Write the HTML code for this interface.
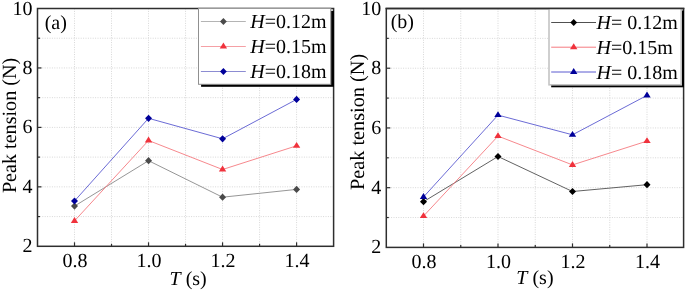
<!DOCTYPE html>
<html><head><meta charset="utf-8"><style>
html,body{margin:0;padding:0;background:#fff;}
body{width:685px;height:290px;overflow:hidden;}
svg{display:block;will-change:transform;}
text{font-family:"Liberation Serif", serif;font-size:20px;fill:#000;text-rendering:geometricPrecision;}
</style></head><body>
<svg width="685" height="290" viewBox="0 0 685 290">
<rect width="685" height="290" fill="#fff"/>
<line x1="74.51" y1="8.50" x2="74.51" y2="246.30" stroke="#d7d7d7" stroke-width="1" stroke-dasharray="1 1.4"/>
<line x1="111.53" y1="8.50" x2="111.53" y2="246.30" stroke="#d7d7d7" stroke-width="1" stroke-dasharray="1 1.4"/>
<line x1="148.54" y1="8.50" x2="148.54" y2="246.30" stroke="#d7d7d7" stroke-width="1" stroke-dasharray="1 1.4"/>
<line x1="185.55" y1="8.50" x2="185.55" y2="246.30" stroke="#d7d7d7" stroke-width="1" stroke-dasharray="1 1.4"/>
<line x1="222.56" y1="8.50" x2="222.56" y2="246.30" stroke="#d7d7d7" stroke-width="1" stroke-dasharray="1 1.4"/>
<line x1="259.58" y1="8.50" x2="259.58" y2="246.30" stroke="#d7d7d7" stroke-width="1" stroke-dasharray="1 1.4"/>
<line x1="296.59" y1="8.50" x2="296.59" y2="246.30" stroke="#d7d7d7" stroke-width="1" stroke-dasharray="1 1.4"/>
<line x1="37.50" y1="216.58" x2="333.60" y2="216.58" stroke="#d7d7d7" stroke-width="1" stroke-dasharray="1 1.4"/>
<line x1="37.50" y1="186.85" x2="333.60" y2="186.85" stroke="#d7d7d7" stroke-width="1" stroke-dasharray="1 1.4"/>
<line x1="37.50" y1="157.12" x2="333.60" y2="157.12" stroke="#d7d7d7" stroke-width="1" stroke-dasharray="1 1.4"/>
<line x1="37.50" y1="127.40" x2="333.60" y2="127.40" stroke="#d7d7d7" stroke-width="1" stroke-dasharray="1 1.4"/>
<line x1="37.50" y1="97.68" x2="333.60" y2="97.68" stroke="#d7d7d7" stroke-width="1" stroke-dasharray="1 1.4"/>
<line x1="37.50" y1="67.95" x2="333.60" y2="67.95" stroke="#d7d7d7" stroke-width="1" stroke-dasharray="1 1.4"/>
<line x1="37.50" y1="38.22" x2="333.60" y2="38.22" stroke="#d7d7d7" stroke-width="1" stroke-dasharray="1 1.4"/>
<path d="M74.51 206.10L148.54 160.70L222.56 197.20L296.59 189.40" fill="none" stroke="#8a8a8a" stroke-width="0.9"/>
<path d="M74.51 202.50L78.01 206.10L74.51 209.70L71.01 206.10Z" fill="#4a4a4a"/>
<path d="M148.54 157.10L152.04 160.70L148.54 164.30L145.04 160.70Z" fill="#4a4a4a"/>
<path d="M222.56 193.60L226.06 197.20L222.56 200.80L219.06 197.20Z" fill="#4a4a4a"/>
<path d="M296.59 185.80L300.09 189.40L296.59 193.00L293.09 189.40Z" fill="#4a4a4a"/>
<path d="M74.51 220.90L148.54 140.50L222.56 169.50L296.59 145.80" fill="none" stroke="#f57a80" stroke-width="0.9"/>
<path d="M74.51 217.00L78.21 222.90L70.81 222.90Z" fill="#f0323c"/>
<path d="M148.54 136.60L152.24 142.50L144.84 142.50Z" fill="#f0323c"/>
<path d="M222.56 165.60L226.26 171.50L218.86 171.50Z" fill="#f0323c"/>
<path d="M296.59 141.90L300.29 147.80L292.89 147.80Z" fill="#f0323c"/>
<path d="M74.51 201.00L148.54 118.30L222.56 138.80L296.59 99.40" fill="none" stroke="#5a5ad0" stroke-width="0.9"/>
<path d="M74.51 197.40L78.01 201.00L74.51 204.60L71.01 201.00Z" fill="#00009a"/>
<path d="M148.54 114.70L152.04 118.30L148.54 121.90L145.04 118.30Z" fill="#00009a"/>
<path d="M222.56 135.20L226.06 138.80L222.56 142.40L219.06 138.80Z" fill="#00009a"/>
<path d="M296.59 95.80L300.09 99.40L296.59 103.00L293.09 99.40Z" fill="#00009a"/>
<line x1="74.51" y1="246.30" x2="74.51" y2="242.30" stroke="#2e2e2e" stroke-width="1.2"/>
<line x1="111.53" y1="246.30" x2="111.53" y2="243.80" stroke="#2e2e2e" stroke-width="1.2"/>
<line x1="148.54" y1="246.30" x2="148.54" y2="242.30" stroke="#2e2e2e" stroke-width="1.2"/>
<line x1="185.55" y1="246.30" x2="185.55" y2="243.80" stroke="#2e2e2e" stroke-width="1.2"/>
<line x1="222.56" y1="246.30" x2="222.56" y2="242.30" stroke="#2e2e2e" stroke-width="1.2"/>
<line x1="259.58" y1="246.30" x2="259.58" y2="243.80" stroke="#2e2e2e" stroke-width="1.2"/>
<line x1="296.59" y1="246.30" x2="296.59" y2="242.30" stroke="#2e2e2e" stroke-width="1.2"/>
<line x1="37.50" y1="216.58" x2="40.00" y2="216.58" stroke="#2e2e2e" stroke-width="1.2"/>
<line x1="37.50" y1="186.85" x2="41.50" y2="186.85" stroke="#2e2e2e" stroke-width="1.2"/>
<line x1="37.50" y1="157.12" x2="40.00" y2="157.12" stroke="#2e2e2e" stroke-width="1.2"/>
<line x1="37.50" y1="127.40" x2="41.50" y2="127.40" stroke="#2e2e2e" stroke-width="1.2"/>
<line x1="37.50" y1="97.68" x2="40.00" y2="97.68" stroke="#2e2e2e" stroke-width="1.2"/>
<line x1="37.50" y1="67.95" x2="41.50" y2="67.95" stroke="#2e2e2e" stroke-width="1.2"/>
<line x1="37.50" y1="38.22" x2="40.00" y2="38.22" stroke="#2e2e2e" stroke-width="1.2"/>
<rect x="37.50" y="8.50" width="296.10" height="237.80" fill="none" stroke="#2e2e2e" stroke-width="1.5"/>
<text x="32.50" y="252.30" text-anchor="end">2</text>
<text x="32.50" y="192.85" text-anchor="end">4</text>
<text x="32.50" y="133.40" text-anchor="end">6</text>
<text x="32.50" y="73.95" text-anchor="end">8</text>
<text x="32.50" y="14.50" text-anchor="end">10</text>
<text x="74.91" y="267.30" text-anchor="middle">0.8</text>
<text x="148.94" y="267.30" text-anchor="middle">1.0</text>
<text x="222.96" y="267.30" text-anchor="middle">1.2</text>
<text x="296.99" y="267.30" text-anchor="middle">1.4</text>
<text x="188.15" y="284.60" text-anchor="middle"><tspan font-style="italic">T</tspan> (s)</text>
<text transform="translate(15.50 125.45) rotate(-90)" text-anchor="middle" style="font-size:20.15px">Peak tension (N)</text>
<text x="44.70" y="29.00">(a)</text>
<rect x="201.10" y="10.90" width="132.80" height="75.90" fill="#000"/>
<rect x="198.50" y="8.30" width="132.30" height="76.00" fill="#fff" stroke="#909090" stroke-width="1"/>
<line x1="200.90" y1="21.50" x2="245.80" y2="21.50" stroke="#b4b4b4" stroke-width="1"/>
<path d="M223.40 17.90L226.80 21.50L223.40 25.10L220.00 21.50Z" fill="#4a4a4a"/>
<text x="250.30" y="28.00"><tspan font-style="italic">H</tspan>=0.12m</text>
<line x1="200.90" y1="46.50" x2="245.80" y2="46.50" stroke="#f5a0a5" stroke-width="1"/>
<path d="M223.40 42.60L227.10 48.50L219.70 48.50Z" fill="#f0323c"/>
<text x="250.30" y="53.00"><tspan font-style="italic">H</tspan>=0.15m</text>
<line x1="200.90" y1="71.50" x2="245.80" y2="71.50" stroke="#8c8cd2" stroke-width="1"/>
<path d="M223.40 67.90L226.80 71.50L223.40 75.10L220.00 71.50Z" fill="#00009a"/>
<text x="250.30" y="78.00"><tspan font-style="italic">H</tspan>=0.18m</text>
<line x1="423.50" y1="8.50" x2="423.50" y2="247.40" stroke="#d7d7d7" stroke-width="1" stroke-dasharray="1 1.4"/>
<line x1="460.75" y1="8.50" x2="460.75" y2="247.40" stroke="#d7d7d7" stroke-width="1" stroke-dasharray="1 1.4"/>
<line x1="498.00" y1="8.50" x2="498.00" y2="247.40" stroke="#d7d7d7" stroke-width="1" stroke-dasharray="1 1.4"/>
<line x1="535.25" y1="8.50" x2="535.25" y2="247.40" stroke="#d7d7d7" stroke-width="1" stroke-dasharray="1 1.4"/>
<line x1="572.50" y1="8.50" x2="572.50" y2="247.40" stroke="#d7d7d7" stroke-width="1" stroke-dasharray="1 1.4"/>
<line x1="609.75" y1="8.50" x2="609.75" y2="247.40" stroke="#d7d7d7" stroke-width="1" stroke-dasharray="1 1.4"/>
<line x1="647.00" y1="8.50" x2="647.00" y2="247.40" stroke="#d7d7d7" stroke-width="1" stroke-dasharray="1 1.4"/>
<line x1="386.30" y1="217.54" x2="683.60" y2="217.54" stroke="#d7d7d7" stroke-width="1" stroke-dasharray="1 1.4"/>
<line x1="386.30" y1="187.68" x2="683.60" y2="187.68" stroke="#d7d7d7" stroke-width="1" stroke-dasharray="1 1.4"/>
<line x1="386.30" y1="157.81" x2="683.60" y2="157.81" stroke="#d7d7d7" stroke-width="1" stroke-dasharray="1 1.4"/>
<line x1="386.30" y1="127.95" x2="683.60" y2="127.95" stroke="#d7d7d7" stroke-width="1" stroke-dasharray="1 1.4"/>
<line x1="386.30" y1="98.09" x2="683.60" y2="98.09" stroke="#d7d7d7" stroke-width="1" stroke-dasharray="1 1.4"/>
<line x1="386.30" y1="68.22" x2="683.60" y2="68.22" stroke="#d7d7d7" stroke-width="1" stroke-dasharray="1 1.4"/>
<line x1="386.30" y1="38.36" x2="683.60" y2="38.36" stroke="#d7d7d7" stroke-width="1" stroke-dasharray="1 1.4"/>
<path d="M423.50 201.70L498.00 156.50L572.50 191.50L647.00 184.70" fill="none" stroke="#505050" stroke-width="0.9"/>
<path d="M423.50 198.10L427.00 201.70L423.50 205.30L420.00 201.70Z" fill="#000000"/>
<path d="M498.00 152.90L501.50 156.50L498.00 160.10L494.50 156.50Z" fill="#000000"/>
<path d="M572.50 187.90L576.00 191.50L572.50 195.10L569.00 191.50Z" fill="#000000"/>
<path d="M647.00 181.10L650.50 184.70L647.00 188.30L643.50 184.70Z" fill="#000000"/>
<path d="M423.50 216.10L498.00 136.10L572.50 164.90L647.00 141.10" fill="none" stroke="#f57a80" stroke-width="0.9"/>
<path d="M423.50 212.20L427.20 218.10L419.80 218.10Z" fill="#f0323c"/>
<path d="M498.00 132.20L501.70 138.10L494.30 138.10Z" fill="#f0323c"/>
<path d="M572.50 161.00L576.20 166.90L568.80 166.90Z" fill="#f0323c"/>
<path d="M647.00 137.20L650.70 143.10L643.30 143.10Z" fill="#f0323c"/>
<path d="M423.50 197.00L498.00 115.10L572.50 134.80L647.00 95.40" fill="none" stroke="#5a5ad0" stroke-width="0.9"/>
<path d="M423.50 193.10L427.20 199.00L419.80 199.00Z" fill="#00009a"/>
<path d="M498.00 111.20L501.70 117.10L494.30 117.10Z" fill="#00009a"/>
<path d="M572.50 130.90L576.20 136.80L568.80 136.80Z" fill="#00009a"/>
<path d="M647.00 91.50L650.70 97.40L643.30 97.40Z" fill="#00009a"/>
<line x1="423.50" y1="247.40" x2="423.50" y2="243.40" stroke="#2e2e2e" stroke-width="1.2"/>
<line x1="460.75" y1="247.40" x2="460.75" y2="244.90" stroke="#2e2e2e" stroke-width="1.2"/>
<line x1="498.00" y1="247.40" x2="498.00" y2="243.40" stroke="#2e2e2e" stroke-width="1.2"/>
<line x1="535.25" y1="247.40" x2="535.25" y2="244.90" stroke="#2e2e2e" stroke-width="1.2"/>
<line x1="572.50" y1="247.40" x2="572.50" y2="243.40" stroke="#2e2e2e" stroke-width="1.2"/>
<line x1="609.75" y1="247.40" x2="609.75" y2="244.90" stroke="#2e2e2e" stroke-width="1.2"/>
<line x1="647.00" y1="247.40" x2="647.00" y2="243.40" stroke="#2e2e2e" stroke-width="1.2"/>
<line x1="386.30" y1="217.54" x2="388.80" y2="217.54" stroke="#2e2e2e" stroke-width="1.2"/>
<line x1="386.30" y1="187.68" x2="390.30" y2="187.68" stroke="#2e2e2e" stroke-width="1.2"/>
<line x1="386.30" y1="157.81" x2="388.80" y2="157.81" stroke="#2e2e2e" stroke-width="1.2"/>
<line x1="386.30" y1="127.95" x2="390.30" y2="127.95" stroke="#2e2e2e" stroke-width="1.2"/>
<line x1="386.30" y1="98.09" x2="388.80" y2="98.09" stroke="#2e2e2e" stroke-width="1.2"/>
<line x1="386.30" y1="68.22" x2="390.30" y2="68.22" stroke="#2e2e2e" stroke-width="1.2"/>
<line x1="386.30" y1="38.36" x2="388.80" y2="38.36" stroke="#2e2e2e" stroke-width="1.2"/>
<rect x="386.30" y="8.50" width="297.30" height="238.90" fill="none" stroke="#2e2e2e" stroke-width="1.5"/>
<text x="381.30" y="253.40" text-anchor="end">2</text>
<text x="381.30" y="193.68" text-anchor="end">4</text>
<text x="381.30" y="133.95" text-anchor="end">6</text>
<text x="381.30" y="74.22" text-anchor="end">8</text>
<text x="381.30" y="14.50" text-anchor="end">10</text>
<text x="423.90" y="268.40" text-anchor="middle">0.8</text>
<text x="498.40" y="268.40" text-anchor="middle">1.0</text>
<text x="572.90" y="268.40" text-anchor="middle">1.2</text>
<text x="647.40" y="268.40" text-anchor="middle">1.4</text>
<text x="534.95" y="283.50" text-anchor="middle"><tspan font-style="italic">T</tspan> (s)</text>
<text transform="translate(364.30 121.90) rotate(-90)" text-anchor="middle" style="font-size:20.25px">Peak tension (N)</text>
<text x="390.70" y="28.40">(b)</text>
<rect x="551.20" y="10.50" width="132.80" height="76.80" fill="#000"/>
<rect x="549.00" y="8.30" width="132.20" height="76.50" fill="#fff" stroke="#c4c4c4" stroke-width="1.6"/>
<line x1="551.20" y1="22.50" x2="596.00" y2="22.50" stroke="#505050" stroke-width="1"/>
<path d="M573.70 18.90L577.10 22.50L573.70 26.10L570.30 22.50Z" fill="#000000"/>
<text x="596.60" y="29.00"><tspan font-style="italic">H</tspan>= 0.12m</text>
<line x1="551.20" y1="47.20" x2="596.00" y2="47.20" stroke="#f57a80" stroke-width="1"/>
<path d="M573.70 43.30L577.40 49.20L570.00 49.20Z" fill="#f0323c"/>
<text x="596.60" y="53.70"><tspan font-style="italic">H</tspan>=0.15m</text>
<line x1="551.20" y1="72.00" x2="596.00" y2="72.00" stroke="#5a5ad0" stroke-width="1"/>
<path d="M573.70 68.10L577.40 74.00L570.00 74.00Z" fill="#00009a"/>
<text x="596.60" y="78.50"><tspan font-style="italic">H</tspan>= 0.18m</text>
<line x1="385.55" y1="8.50" x2="684.35" y2="8.50" stroke="#2e2e2e" stroke-width="1.5"/>
</svg>
</body></html>
